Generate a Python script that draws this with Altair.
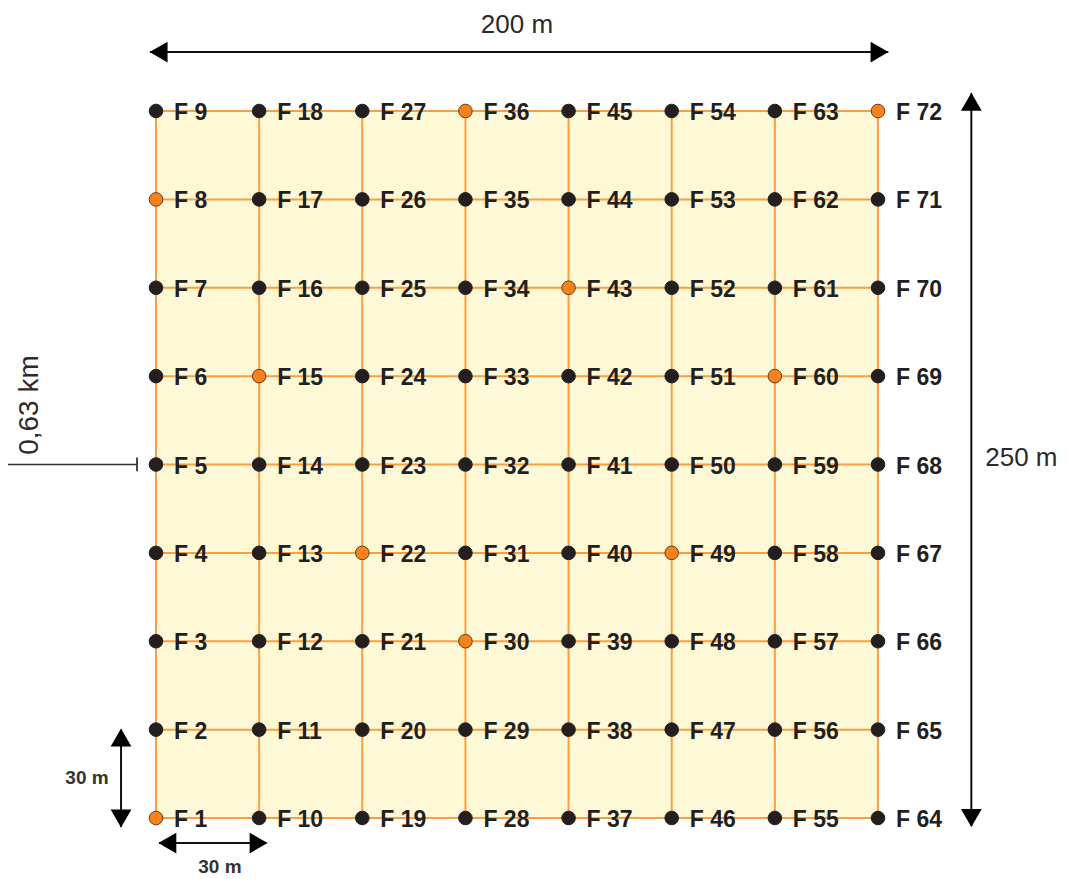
import altair as alt
import pandas as pd

# ---- data ----
n_cols = 8
n_rows = 9
orange_ids = [1, 8, 15, 22, 30, 36, 43, 49, 60, 72]
ids = list(range(1, n_cols * n_rows + 1))
cols = [(i - 1) // n_rows for i in ids]
rows = [(i - 1) % n_rows for i in ids]
labels = [f"F {i}" for i in ids]
kinds = ["orange" if i in orange_ids else "black" for i in ids]

pts = pd.DataFrame({"col": cols, "row": rows, "label": labels, "kind": kinds})

vlines = pd.DataFrame({"x": list(range(n_cols)), "y": [0] * n_cols, "y2": [n_rows - 1] * n_cols})
hlines = pd.DataFrame({"y": list(range(n_rows)), "x": [0] * n_rows, "x2": [n_cols - 1] * n_rows})
area = pd.DataFrame({"x": [0], "x2": [n_cols - 1], "y": [0], "y2": [n_rows - 1]})

# annotation arrows (grid units)
h_arrows = pd.DataFrame({"x": [-0.06, 0.03], "x2": [7.10, 1.07], "y": [8.667, -0.283]})
v_arrows = pd.DataFrame({"x": [7.905, -0.339], "y": [8.20, 1.0], "y2": [-0.09, -0.10]})
heads = pd.DataFrame({
    "x": [0.025, 7.015, 0.11, 0.995, 7.905, 7.905, -0.339, -0.339],
    "y": [8.667, 8.667, -0.283, -0.283, 8.105, 0.0, 0.91, -0.005],
    "shape": ["triangle-left", "triangle-right", "triangle-left", "triangle-right",
              "triangle-up", "triangle-down", "triangle-up", "triangle-down"],
})
big_text = pd.DataFrame({"x": [3.50, 8.39], "y": [8.973, 4.074], "t": ["200 m", "250 m"]})
small_text = pd.DataFrame({"x": [-0.669, 0.62], "y": [0.453, -0.56], "t": ["30 m", "30 m"]})
km_text = pd.DataFrame({"x": [-1.222], "y": [4.673], "t": ["0,63 km"]})
km_line = pd.DataFrame({"x": [-1.6], "x2": [-0.184], "y": [4.0]})
km_tick = pd.DataFrame({"x": [-0.184], "y": [4.08], "y2": [3.925]})

X = alt.Scale(domain=[-1.4349, 8.7646], nice=False, zero=False)
Y = alt.Scale(domain=[-0.6902, 9.1655], nice=False, zero=False)

def xe(f="x"):
    return alt.X(f"{f}:Q", scale=X, axis=None)

def ye(f="y"):
    return alt.Y(f"{f}:Q", scale=Y, axis=None)

GRID = "#f7a043"
FILL = "#fdf8d6"
INK = "#231f20"
FONT = "Liberation Sans"

bg = alt.Chart(area).mark_rect(color=FILL).encode(x=xe(), x2="x2:Q", y=ye(), y2="y2:Q")
vl = alt.Chart(vlines).mark_rule(color=GRID, strokeWidth=2).encode(x=xe(), y=ye(), y2="y2:Q")
hl = alt.Chart(hlines).mark_rule(color=GRID, strokeWidth=2).encode(y=ye(), x=xe(), x2="x2:Q")

dots = alt.Chart(pts).mark_point(filled=True, size=185, opacity=1, strokeWidth=1).encode(
    x=xe("col"), y=ye("row"),
    fill=alt.Fill("kind:N", scale=alt.Scale(domain=["black", "orange"], range=[INK, "#f5821f"]), legend=None),
    stroke=alt.Stroke("kind:N", scale=alt.Scale(domain=["black", "orange"], range=[INK, "#6b3c12"]), legend=None),
)
txt = alt.Chart(pts).mark_text(
    align="left", baseline="middle", dx=18, dy=2, font=FONT,
    fontWeight="bold", fontSize=23, color=INK,
).encode(x=xe("col"), y=ye("row"), text="label:N")

ha = alt.Chart(h_arrows).mark_rule(color="#111", strokeWidth=2).encode(x=xe(), x2="x2:Q", y=ye())
va = alt.Chart(v_arrows).mark_rule(color="#111", strokeWidth=2).encode(x=xe(), y=ye(), y2="y2:Q")
hd = alt.Chart(heads).mark_point(filled=True, size=430, color="#000", opacity=1).encode(
    x=xe(), y=ye(), shape=alt.Shape("shape:N", scale=None)
)
bt = alt.Chart(big_text).mark_text(font=FONT, fontSize=26, color="#2a2a2a").encode(
    x=xe(), y=ye(), text="t:N")
st = alt.Chart(small_text).mark_text(font=FONT, fontSize=19, fontWeight="bold", color="#333").encode(
    x=xe(), y=ye(), text="t:N")
kt = alt.Chart(km_text).mark_text(font=FONT, fontSize=28, color="#2a2a2a", angle=270).encode(
    x=xe(), y=ye(), text="t:N")
kl = alt.Chart(km_line).mark_rule(color="#333", strokeWidth=1.5).encode(x=xe(), x2="x2:Q", y=ye())
kk = alt.Chart(km_tick).mark_rule(color="#333", strokeWidth=1.8).encode(x=xe(), y=ye(), y2="y2:Q")

chart = alt.layer(bg, vl, hl, kl, kk, ha, va, hd, dots, txt, bt, st, kt).properties(
    width=1052, height=871, padding=0, autosize=alt.AutoSizeParams(type="none")
).configure_view(stroke=None)

chart.save("out.html", embed_options={"renderer": "svg", "actions": False})
